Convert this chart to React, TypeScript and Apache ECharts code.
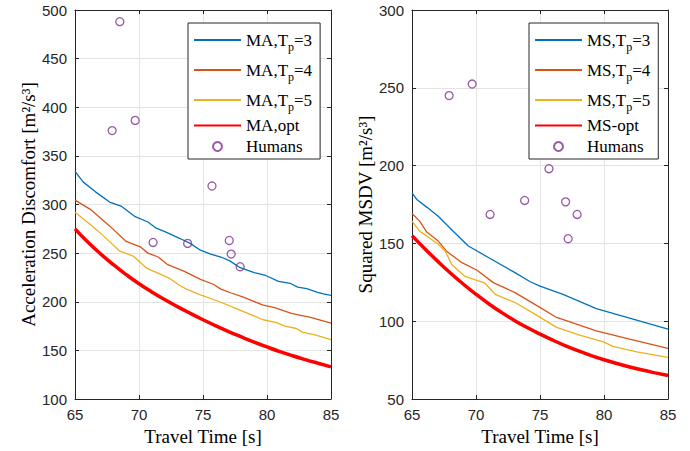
import React, { useEffect, useRef } from "react";
import * as echarts from "echarts";

// ---------- data ----------
const xTicks = { min: 65, max: 85, interval: 5 };
const leftY = { min: 100, max: 500, interval: 50 };
const rightY = { min: 50, max: 300, interval: 50 };

const optTimes = [65, 66, 67, 68, 69, 70, 71, 72, 73, 74, 75, 76, 77, 78, 79, 80, 81, 82, 83, 84, 85];

const maTp3 = [[65, 334], [65.65, 323], [66.6, 313], [67.7, 302.5], [68.65, 298], [69.7, 287.5], [70.7, 282], [71.3, 276], [72.2, 271], [73.2, 265], [74.0, 260], [74.8, 253], [75.6, 249], [76.4, 246], [77.1, 242], [77.9, 235], [79.0, 230], [79.9, 227], [80.9, 221], [81.8, 219], [82.4, 215], [83.1, 213.5], [83.9, 210], [84.4, 208], [85, 206.5]];
const maTp4 = [[65, 304.5], [66.2, 295], [67.7, 278], [69.0, 262], [70.1, 256.5], [70.7, 250], [71.5, 246], [72.2, 238.5], [73.5, 231.5], [74.8, 223], [75.8, 218], [76.4, 213], [77.2, 209], [78.1, 205], [79.7, 196.5], [80.6, 194], [81.9, 188], [83.4, 184], [85, 178]];
const maTp5 = [[65, 292], [66.2, 279.5], [67.2, 268], [68.5, 252], [69.55, 247], [70.6, 234.5], [72.4, 224], [73.1, 217.5], [73.7, 213], [74.8, 207], [76.3, 200], [77.6, 193], [79.7, 181.5], [80.75, 178.5], [81.4, 175], [82.3, 172.5], [82.8, 168.5], [83.75, 166], [85, 161]];
const maOpt = [275, 261.4, 249.2, 238.1, 227.9, 218.5, 210.1, 202.3, 195.0, 188.1, 181.5, 175.2, 169.3, 163.8, 158.5, 153.5, 148.8, 144.5, 140.5, 136.7, 133.0];
const maHumans = [[67.9, 376], [68.5, 488], [69.7, 386.5], [71.1, 261], [73.8, 260], [75.7, 319], [77.05, 263], [77.2, 249], [77.9, 236]];

const msTp3 = [[65, 182.5], [65.4, 178], [66.2, 173], [67.05, 167.5], [68.2, 158], [69.4, 148.3], [71.0, 140.8], [73.05, 131.2], [74.2, 125.5], [75, 122.6], [76.8, 117.3], [79.4, 108.1], [82, 101.9], [85, 94.9]];
const msTp4 = [[65, 169.2], [65.6, 164.3], [66.15, 157.3], [67.05, 151.5], [67.7, 145], [68.9, 137.6], [70.05, 132.9], [71.35, 124.8], [73.05, 118.4], [74.4, 111.8], [76.3, 102.4], [79.4, 93.8], [82, 88.5], [85, 82.5]];
const msTp5 = [[65, 164.3], [65.6, 157.9], [67.05, 149.4], [67.6, 145], [68.1, 136.5], [69.1, 129], [70.7, 124.4], [71.5, 117.3], [73.05, 112], [74.4, 105.5], [76.3, 96], [78.1, 91], [79.95, 86.7], [80.7, 83.8], [82.55, 80.3], [85, 76.7]];
const msOpt = [155, 146.6, 138.6, 131.0, 123.9, 117.3, 111.2, 105.6, 100.5, 95.9, 91.7, 87.8, 84.2, 80.9, 77.9, 75.2, 72.8, 70.6, 68.6, 66.8, 65.1];
const msHumans = [[67.9, 245], [69.7, 252.4], [71.1, 168.6], [73.8, 177.6], [75.7, 198], [77.0, 176.7], [77.2, 153], [77.9, 168.6]];

const leftNames = ["MA,T_p=3", "MA,T_p=4", "MA,T_p=5", "MA,opt", "Humans"];
const rightNames = ["MS,T_p=3", "MS,T_p=4", "MS,T_p=5", "MS-opt", "Humans "];
const xTitle = "Travel Time [s]";
const leftYTitle = "Acceleration Discomfort [m²/s³]";
const rightYTitle = "Squared MSDV [m²/s³]";

// ---------- styles ----------
const COLORS = ["#0072BD", "#D95319", "#EDB120", "#FF0000"];
const PURPLE = "#7E2F8E";
const AX = "#262626";
const SERIF = "Liberation Serif";
const SANS = "Liberation Sans";

function xAxesFor(gridIndex: number) {
  const line = { show: true, onZero: false, lineStyle: { color: AX, width: 1 } };
  return [
    {
      type: "value", gridIndex, ...xTicks, position: "bottom",
      name: xTitle, nameLocation: "middle", nameGap: 28,
      nameTextStyle: { fontFamily: SERIF, fontSize: 19, color: "#000" },
      axisLine: line,
      axisTick: { inside: true, length: 4, lineStyle: { color: AX } },
      axisLabel: { fontFamily: SANS, fontSize: 15, color: AX, margin: 8 },
      splitLine: { show: true, lineStyle: { color: "#e3e3e3", width: 1 } },
    },
    {
      type: "value", gridIndex, ...xTicks, position: "top",
      axisLine: line,
      axisTick: { inside: true, length: 4, lineStyle: { color: AX } },
      axisLabel: { show: false },
      splitLine: { show: false },
    },
  ];
}

function yAxesFor(gridIndex: number, range: any, title: string) {
  const line = { show: true, onZero: false, lineStyle: { color: AX, width: 1 } };
  return [
    {
      type: "value", gridIndex, ...range, position: "left",
      name: title, nameLocation: "middle", nameRotate: 90, nameGap: 34,
      nameTextStyle: { fontFamily: SERIF, fontSize: 19, color: "#000" },
      axisLine: line,
      axisTick: { inside: true, length: 4, lineStyle: { color: AX } },
      axisLabel: { fontFamily: SANS, fontSize: 15, color: AX, margin: 8 },
      splitLine: { show: true, lineStyle: { color: "#e3e3e3", width: 1 } },
    },
    {
      type: "value", gridIndex, ...range, position: "right",
      axisLine: line,
      axisTick: { inside: true, length: 4, lineStyle: { color: AX } },
      axisLabel: { show: false },
      splitLine: { show: false },
    },
  ];
}

const hiddenMarker = { color: "rgba(0,0,0,0)", borderColor: "rgba(0,0,0,0)", borderWidth: 0, opacity: 0 };

function legendFor(names: string[], left: number) {
  return {
    orient: "vertical",
    left, top: 23,
    itemWidth: 47, itemHeight: 9, itemGap: 4,
    padding: [4, 8, 4, 5],
    backgroundColor: "#fff",
    borderColor: AX, borderWidth: 1, borderRadius: 0,
    selectedMode: false,
    data: names.map((n, i) => (i < 4 ? { name: n, itemStyle: hiddenMarker } : { name: n })),
    formatter: (name: string) => {
      const n = name.trim();
      if (n.includes("T_p")) {
        const [a, b] = n.split("T_p");
        return `{a|${a}T}{s|p}{a|${b}}`;
      }
      return `{a|${n}}`;
    },
    textStyle: {
      fontFamily: SERIF,
      rich: {
        a: { fontFamily: SERIF, fontSize: 17, lineHeight: 17, color: "#000" },
        s: { fontFamily: SERIF, fontSize: 12, lineHeight: 12, color: "#000", padding: [14, 0, 0, 0] },
      },
    },
  };
}

function lineSeries(name: string, data: any[], color: string, xi: number, yi: number, width = 1.3, smooth = false) {
  return {
    type: "line", name, data, xAxisIndex: xi, yAxisIndex: yi,
    symbol: "none", smooth,
    lineStyle: { color, width }, itemStyle: { color },
    z: width > 2 ? 3 : 2,
  };
}

function humanSeries(name: string, data: any[], xi: number, yi: number) {
  return {
    type: "scatter", name, data, xAxisIndex: xi, yAxisIndex: yi,
    symbol: "circle", symbolSize: 8,
    itemStyle: { color: "rgba(255,255,255,0)", borderColor: PURPLE, borderWidth: 1.3 },
    z: 4,
  };
}

export default function App() {
  const ref = useRef<HTMLDivElement>(null);
  useEffect(() => {
    if (!ref.current) return;
    const chart = echarts.init(ref.current, null, { renderer: "svg" });
    const maOptData = optTimes.map((t, i) => [t, maOpt[i]]);
    const msOptData = optTimes.map((t, i) => [t, msOpt[i]]);
    chart.setOption({
      animation: false,
      backgroundColor: "#fff",
      grid: [
        { left: 75, top: 10, width: 256, height: 390 },
        { left: 412, top: 10, width: 256, height: 390 },
      ],
      xAxis: [...xAxesFor(0), ...xAxesFor(1)],
      yAxis: [...yAxesFor(0, leftY, leftYTitle), ...yAxesFor(1, rightY, rightYTitle)],
      legend: [legendFor(leftNames, 188), legendFor(rightNames, 529)],
      series: [
        lineSeries(leftNames[0], maTp3, COLORS[0], 0, 0),
        lineSeries(leftNames[1], maTp4, COLORS[1], 0, 0),
        lineSeries(leftNames[2], maTp5, COLORS[2], 0, 0),
        lineSeries(leftNames[3], maOptData, COLORS[3], 0, 0, 3.5, true),
        humanSeries(leftNames[4], maHumans, 0, 0),
        lineSeries(rightNames[0], msTp3, COLORS[0], 2, 2),
        lineSeries(rightNames[1], msTp4, COLORS[1], 2, 2),
        lineSeries(rightNames[2], msTp5, COLORS[2], 2, 2),
        lineSeries(rightNames[3], msOptData, COLORS[3], 2, 2, 3.5, true),
        humanSeries(rightNames[4], msHumans, 2, 2),
      ],
    });
    return () => chart.dispose();
  }, []);
  return (
    <div
      ref={ref}
      style={{ position: "absolute", left: 0, top: 0, width: 690, height: 451, background: "#fff" }}
    />
  );
}
